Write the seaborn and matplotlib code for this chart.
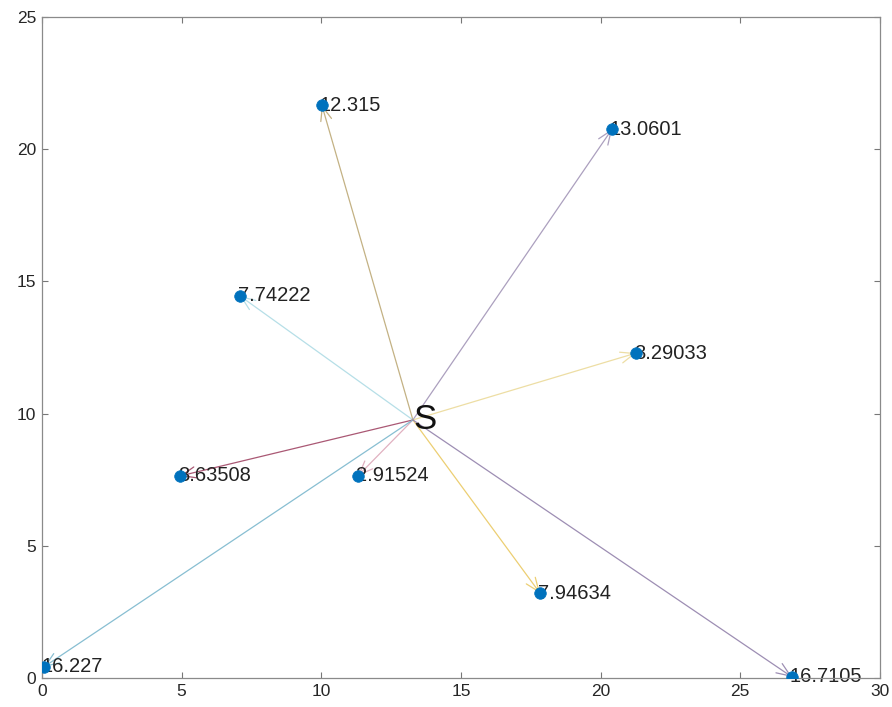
import numpy as np
import pandas as pd
import matplotlib
matplotlib.use("Agg")
import matplotlib.pyplot as plt
import seaborn as sns

# source node
src_x = 13.28
src_y = 9.76

# target nodes and their distances to the source
node_x = [10.02, 20.41, 7.09, 21.27, 4.94, 11.31, 17.83, 0.07, 26.85]
node_y = [21.67, 20.76, 14.45, 12.29, 7.64, 7.64, 3.21, 0.42, 0.04]
dist_labels = ["12.315", "13.0601", "7.74222", "8.29033", "8.63508",
               "2.91524", "7.94634", "16.227", "16.7105"]
arrow_colors = ["#b9a46e", "#9d8fb3", "#a9d9e3", "#ead894", "#9b3b5c",
                "#dba3b5", "#e9c65a", "#73b3ca", "#8c7aa6"]

x_ticks = [0, 5, 10, 15, 20, 25, 30]
y_ticks = [0, 5, 10, 15, 20, 25]

df = pd.DataFrame({"x": node_x, "y": node_y, "label": dist_labels})

sns.set_style("white")
plt.rcParams["font.family"] = ["Liberation Sans", "DejaVu Sans"]

fig = plt.figure(figsize=(8.92, 7.07), dpi=100)
ax = fig.add_axes([0.047, 0.041, 0.9395, 0.935])

# arrows from the source to every node
for (_, row), c in zip(df.iterrows(), arrow_colors):
    ax.annotate("", xy=(row["x"], row["y"]), xytext=(src_x, src_y),
                arrowprops=dict(arrowstyle="->,head_length=1.0,head_width=0.4",
                                color=c, lw=0.9, alpha=0.85,
                                shrinkA=0, shrinkB=0),
                zorder=1)

# distance labels
for _, row in df.iterrows():
    ax.annotate(row["label"], xy=(row["x"], row["y"]), xytext=(-1.5, 0),
                textcoords="offset points", ha="left", va="center",
                fontsize=14.5, color="#222222", zorder=2)

sns.scatterplot(data=df, x="x", y="y", ax=ax, color="#0072BD", s=70,
                edgecolor="#0072BD", linewidth=0.5, zorder=3, legend=False)

ax.text(src_x, src_y, "S", ha="left", va="center", fontsize=25,
        color="#111111", zorder=4)

ax.set_xlim(0, 30)
ax.set_ylim(0, 25)
ax.set_xticks(x_ticks)
ax.set_yticks(y_ticks)
ax.set_xlabel("")
ax.set_ylabel("")
ax.tick_params(direction="in", length=4, width=0.8, colors="#777777",
               labelcolor="#262626", labelsize=12.5, top=True, right=True,
               bottom=True, left=True, pad=4)
for s in ax.spines.values():
    s.set_color("#8a8a8a")
    s.set_linewidth(0.9)
    s.set_visible(True)

fig.savefig("out.png", dpi=100)
